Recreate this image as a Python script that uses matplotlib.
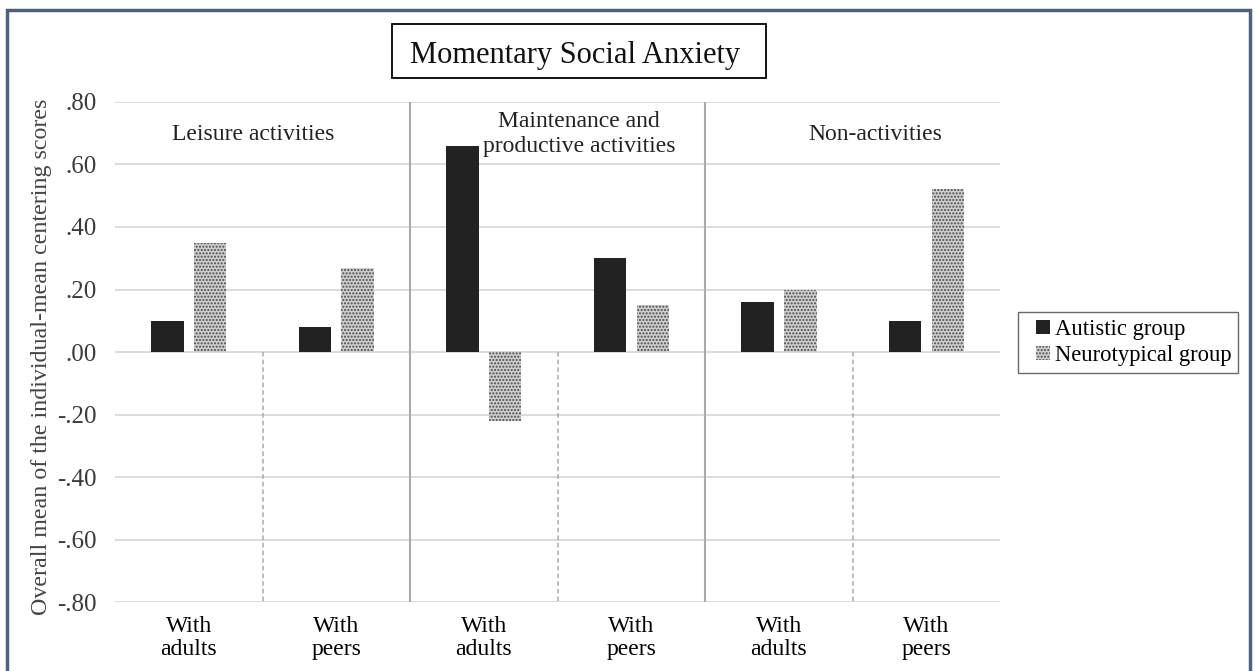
import matplotlib
matplotlib.use("Agg")
import matplotlib.pyplot as plt
from matplotlib.patches import Rectangle
from matplotlib.container import BarContainer
from matplotlib.legend_handler import HandlerPatch
import numpy as np

plt.rcParams['font.family'] = ['Liberation Serif', 'DejaVu Serif']

# data
contexts = ["With\nadults", "With\npeers", "With\nadults", "With\npeers", "With\nadults", "With\npeers"]
activities = ["Leisure activities", "Maintenance and\nproductive activities", "Non-activities"]
activity_x = [0.44, 2.646, 4.65]
autistic = [0.10, 0.08, 0.66, 0.30, 0.16, 0.10]
neurotypical = [0.35, 0.27, -0.22, 0.15, 0.20, 0.52]
yticks = [-0.8, -0.6, -0.4, -0.2, 0.0, 0.2, 0.4, 0.6, 0.8]
ytick_labels = ["-.80", "-.60", "-.40", "-.20", ".00", ".20", ".40", ".60", ".80"]


def small_square(legend, orig_handle, xdescent, ydescent, width, height, fontsize):
    # square legend key pushed to the right of its slot
    sq = height
    return Rectangle((-xdescent + width - sq, -ydescent), sq, sq)


def from_first_bar(handle, orig):
    handle.update_from(orig.patches[0])


fig = plt.figure(figsize=(12.55, 6.71), dpi=100)
ax = fig.add_axes([0.0916, 0.1028, 0.7054, 0.7452])

x = np.arange(len(contexts))
w = 0.22
ax.bar(x - 0.145, autistic, w, color='#222222', label='Autistic group', zorder=3)
ax.bar(x + 0.145, neurotypical, w, facecolor='#cfcfcf', edgecolor='#4a4a4a',
       hatch='.....', linewidth=0, label='Neurotypical group', zorder=3)

ax.set_xlim(-0.5, len(contexts) - 0.5)
ax.set_ylim(-0.8, 0.8)
ax.set_yticks(yticks)
ax.set_yticklabels(ytick_labels, fontsize=18, color='#3a3a3a')
ax.set_xticks(x)
ax.set_xticklabels(contexts, fontsize=17, linespacing=1.15)
ax.tick_params(length=0)
ax.tick_params(axis='x', pad=10)
ax.tick_params(axis='y', pad=13)
for s in ax.spines.values():
    s.set_visible(False)
for t in yticks:
    ax.axhline(t, color='#d9d9d9', linewidth=1.3, zorder=1)

# separators between activity blocks
for xs in [1.5, 3.5]:
    ax.axvline(xs, color='#aaaaaa', linewidth=1.5, zorder=2)
for xs in [0.5, 2.5, 4.5]:
    ax.plot([xs, xs], [0, -0.8], color='#aaaaaa', linewidth=1.1, linestyle=(0, (3, 2)), zorder=2)

for name, xa in zip(activities, activity_x):
    ax.text(xa, 0.697, name, ha='center', va='center', fontsize=17,
            linespacing=1.28, color='#222222', zorder=4)

ax.set_ylabel("Overall mean of the individual-mean centering scores", fontsize=17.3,
              color='#444444')
ax.yaxis.set_label_coords(-0.071, 0.49)

# title box
fig.patches.append(Rectangle((392 / 1255, 1 - 78 / 671), 374 / 1255, 54 / 671,
                             transform=fig.transFigure, facecolor='white',
                             edgecolor='black', linewidth=1.3))
fig.text(0.4586, 1 - 63 / 671, "Momentary Social Anxiety", ha='center', va='baseline',
         fontsize=22, color='#111111')

ax.legend(loc='center left', bbox_to_anchor=(1.02, 0.519), fontsize=16.3, frameon=True,
          fancybox=False, edgecolor='#444444', handlelength=1.1, handleheight=0.55,
          handletextpad=0.22, borderpad=0.3, labelspacing=0.2, borderaxespad=0,
          handler_map={BarContainer: HandlerPatch(patch_func=small_square,
                                                  update_func=from_first_bar)})

fig.patches.append(Rectangle((7 / 1255, -0.02), 1243 / 1255, 1.005, transform=fig.transFigure,
                             fill=False, edgecolor='#4f5f80', linewidth=2.5))

fig.savefig("out.png", dpi=100)
